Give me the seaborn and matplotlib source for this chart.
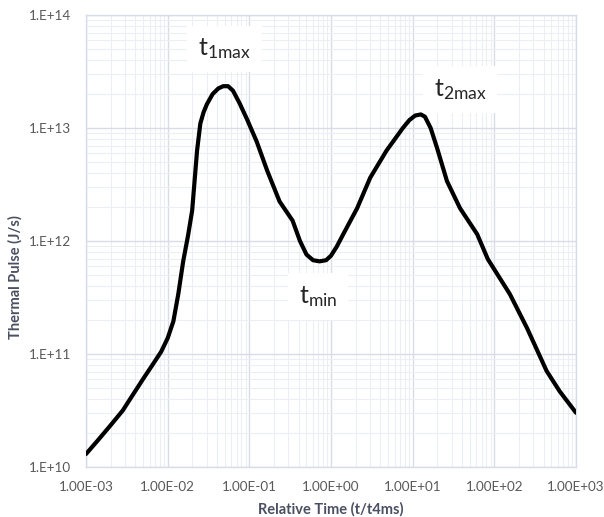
import numpy as np
import pandas as pd
import matplotlib
matplotlib.use("Agg")
import matplotlib.pyplot as plt
import seaborn as sns
from matplotlib.ticker import FixedLocator, LogLocator, NullFormatter

# log10 of relative time and thermal pulse
log_time = [-3.00, -2.85, -2.706, -2.55, -2.42, -2.30, -2.18, -2.08, -2.00, -1.93, -1.87, -1.81,
            -1.75, -1.70, -1.64, -1.60, -1.56, -1.52, -1.45, -1.38, -1.32, -1.26, -1.20, -1.12,
            -1.03, -0.91, -0.78, -0.63, -0.47, -0.38, -0.30, -0.22, -0.14, -0.06, 0.00, 0.07,
            0.15, 0.32, 0.48, 0.68, 0.88, 0.96, 1.03, 1.10, 1.15, 1.22, 1.30, 1.42, 1.58, 1.79,
            1.92, 2.19, 2.40, 2.64, 2.80, 3.00]
log_pulse = [10.115, 10.24, 10.363, 10.50, 10.646, 10.78, 10.91, 11.02, 11.14, 11.29, 11.53, 11.82,
             12.05, 12.27, 12.80, 13.04, 13.14, 13.21, 13.30, 13.35, 13.37, 13.37, 13.33, 13.22,
             13.08, 12.88, 12.62, 12.35, 12.18, 12.00, 11.88, 11.83, 11.82, 11.83, 11.87, 11.95,
             12.06, 12.29, 12.56, 12.80, 13.00, 13.07, 13.11, 13.12, 13.10, 13.00, 12.82, 12.53,
             12.29, 12.06, 11.84, 11.53, 11.23, 10.85, 10.67, 10.48]

x_ticks = [1e-3, 1e-2, 1e-1, 1e0, 1e1, 1e2, 1e3]
x_tick_labels = ["1.00E-03", "1.00E-02", "1.00E-01", "1.00E+00", "1.00E+01", "1.00E+02", "1.00E+03"]
y_ticks = [1e10, 1e11, 1e12, 1e13, 1e14]
y_tick_labels = ["1.E+10", "1.E+11", "1.E+12", "1.E+13", "1.E+14"]

df = pd.DataFrame({"time": np.power(10.0, log_time), "pulse": np.power(10.0, log_pulse)})

sns.set_theme(style="white")
plt.rcParams["font.family"] = ["Lato", "DejaVu Sans"]
plt.rcParams["mathtext.fontset"] = "custom"
plt.rcParams["mathtext.rm"] = "Open Sans"
plt.rcParams["mathtext.it"] = "Open Sans"

fig = plt.figure(figsize=(6.04, 5.17), dpi=100)
ax = fig.add_axes([86 / 604, 1 - 467 / 517, 490 / 604, 452 / 517])

ax.set_xscale("log")
ax.set_yscale("log")
ax.set_xlim(1e-3, 1e3)
ax.set_ylim(1e10, 1e14)

ax.xaxis.set_minor_locator(LogLocator(base=10, subs=np.arange(2, 10), numticks=100))
ax.yaxis.set_minor_locator(LogLocator(base=10, subs=np.arange(2, 10), numticks=100))
ax.xaxis.set_minor_formatter(NullFormatter())
ax.yaxis.set_minor_formatter(NullFormatter())
ax.grid(which="major", color="#d9dce6", linewidth=1.0)
ax.grid(which="minor", color="#eceef3", linewidth=0.8)
ax.set_axisbelow(True)

sns.lineplot(data=df, x="time", y="pulse", sort=False, color="black", linewidth=3.0, ax=ax, zorder=3)

ax.xaxis.set_major_locator(FixedLocator(x_ticks))
ax.set_xticklabels(x_tick_labels)
ax.yaxis.set_major_locator(FixedLocator(y_ticks))
ax.set_yticklabels(y_tick_labels)
ax.tick_params(which="both", length=0, labelsize=9.7, colors="#595959")
ax.tick_params(axis="x", pad=10)
ax.tick_params(axis="y", pad=10.5)

for s in ax.spines.values():
    s.set_color("#d9dce6")
    s.set_linewidth(1.0)

ax.set_xlabel("Relative Time (t/t4ms)", fontsize=10.5, fontweight="bold", color="#4a5061")
ax.set_ylabel("Thermal Pulse (J/s)", fontsize=10.5, fontweight="bold", color="#4a5061")
ax.xaxis.set_label_coords(0.5, -0.077)
ax.yaxis.set_label_coords(-0.129, 0.42)

box = dict(facecolor="white", edgecolor="none", pad=8)
ax.text(0.05, 5.0e13, r"$\mathregular{t_{1max}}$", fontsize=18, ha="center", va="center", bbox=box, zorder=4)
ax.text(38, 2.2e13, r"$\mathregular{t_{2max}}$", fontsize=18, ha="center", va="center", bbox=box, zorder=4)
ax.text(0.69, 3.2e11, r"$\mathregular{t_{min}}$", fontsize=18, ha="center", va="center", bbox=box, zorder=4)

fig.savefig("out.png", dpi=100)
